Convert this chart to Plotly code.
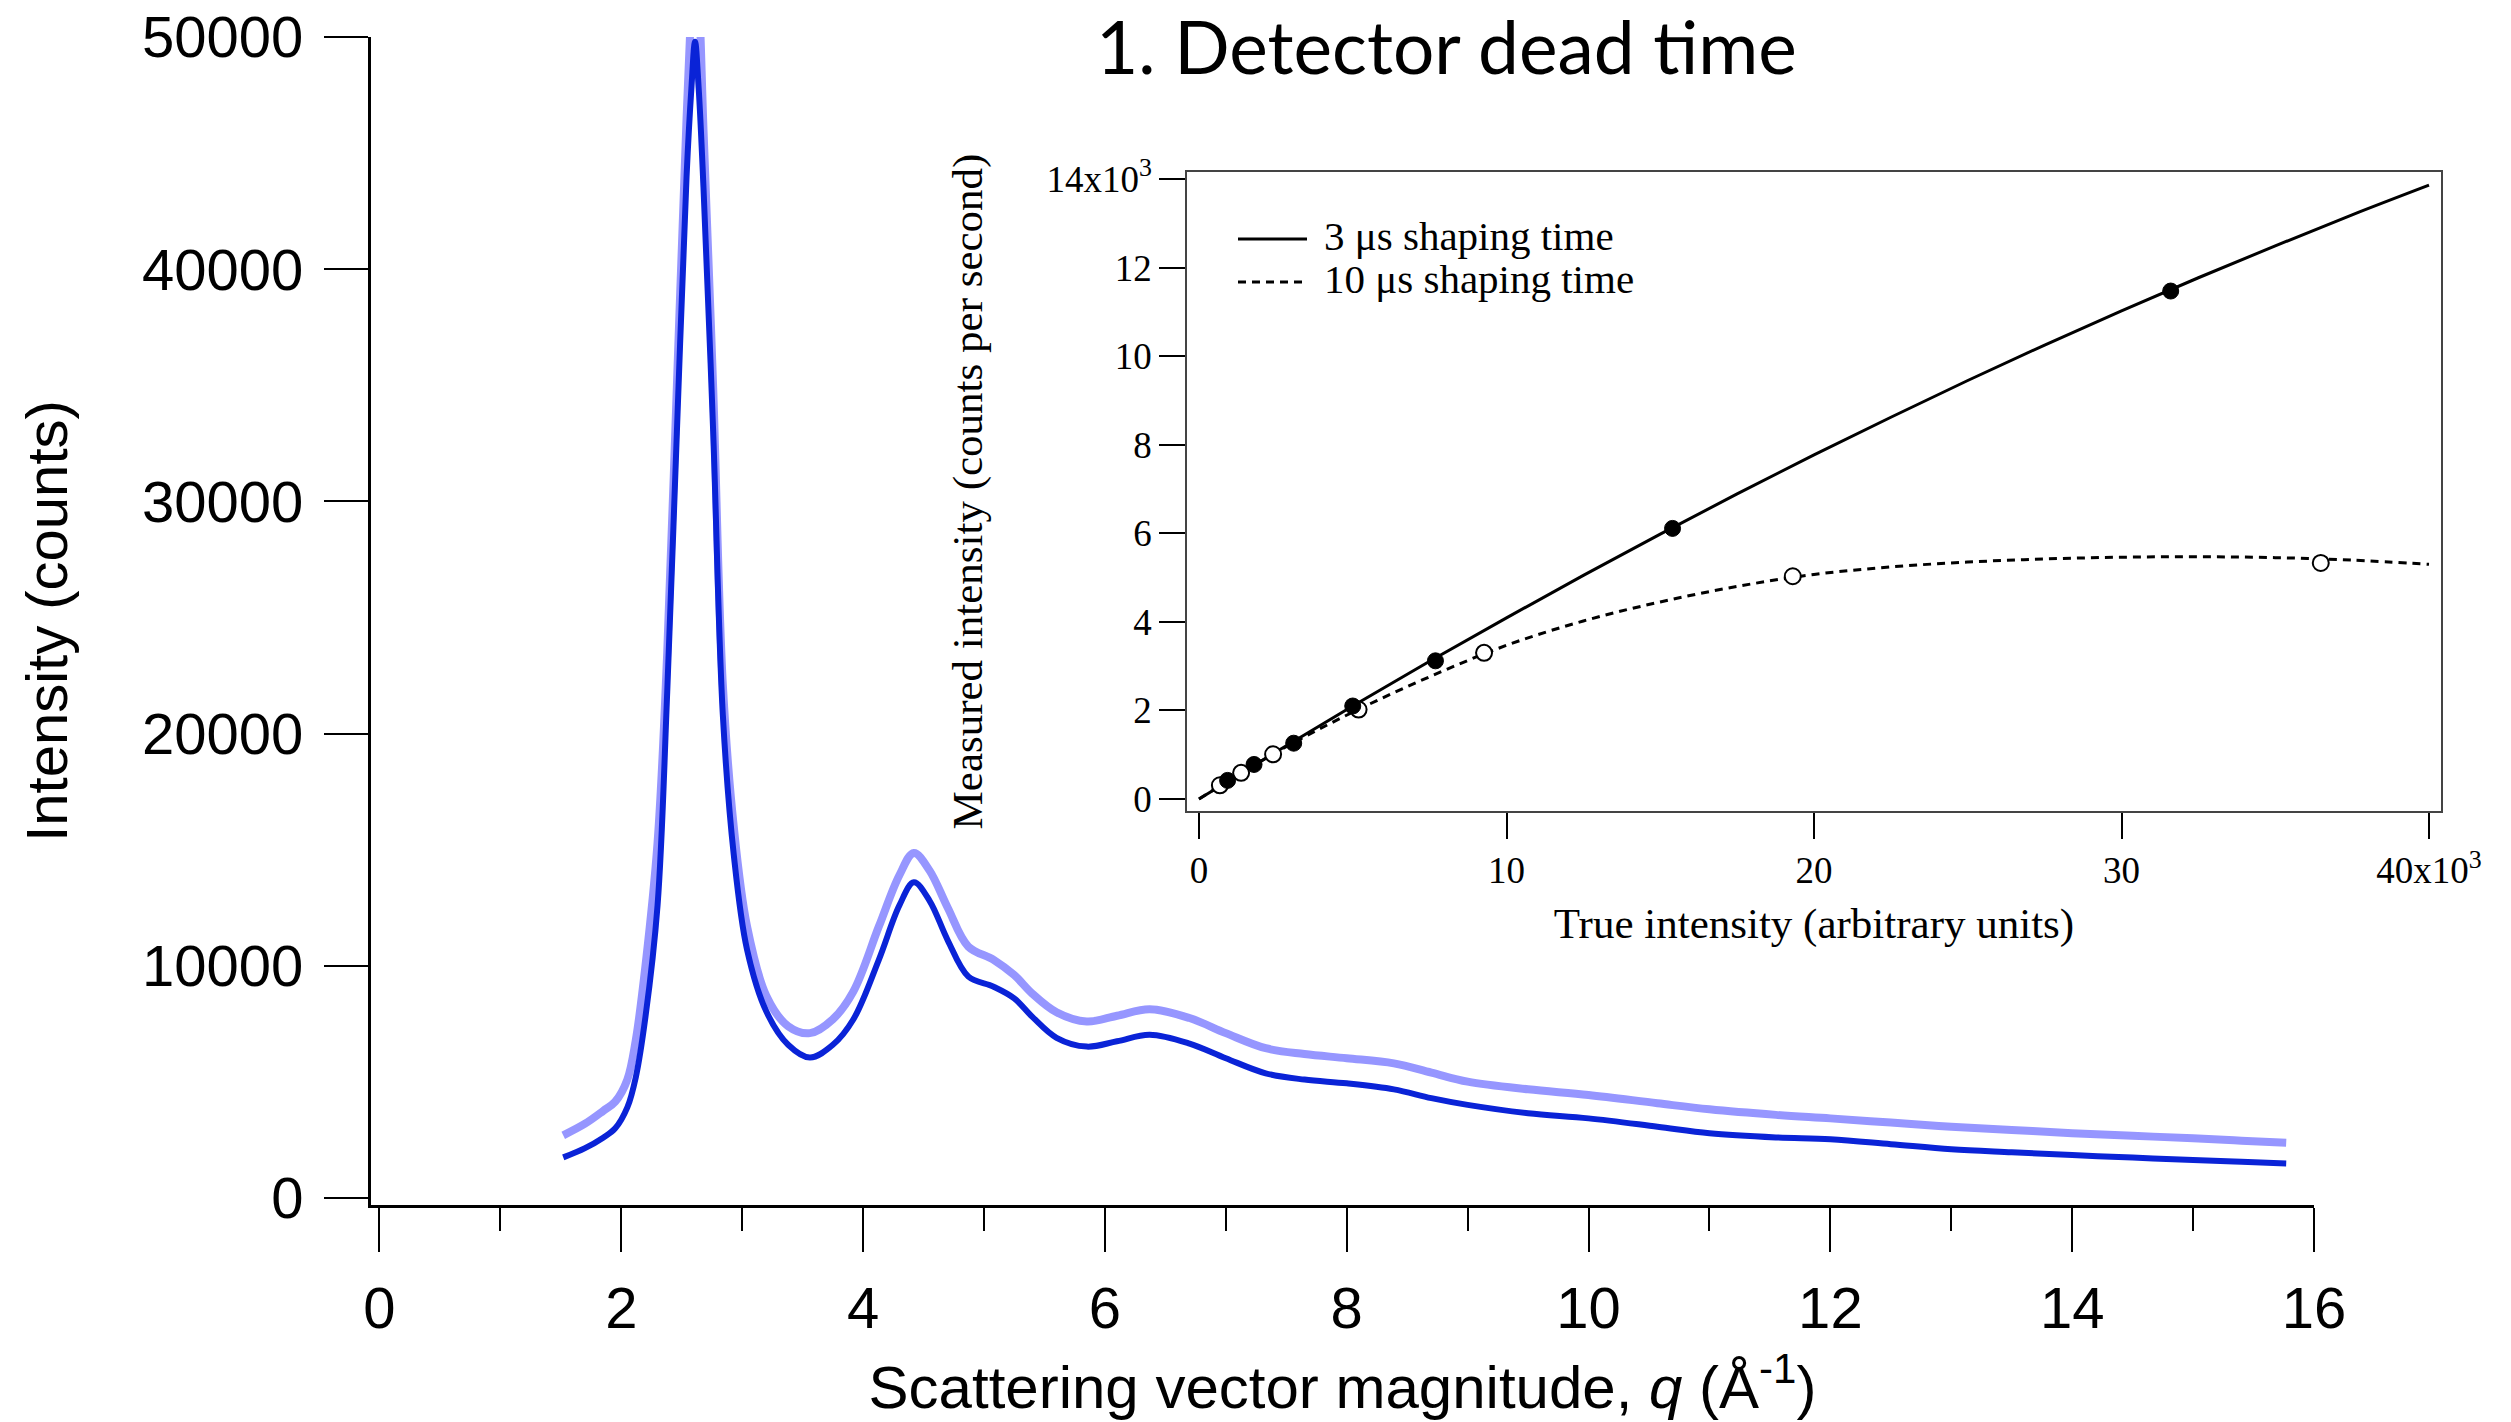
import plotly.graph_objects as go

# ---------------- data: main panel ----------------
q_values = [1.52, 1.70, 1.85, 1.95, 2.05, 2.12, 2.20, 2.30, 2.38, 2.46, 2.54, 2.58, 2.61, 2.64, 2.68,
            2.76, 2.84, 2.93, 3.04, 3.20, 3.38, 3.56, 3.75, 3.92, 4.13, 4.30, 4.42, 4.55, 4.70,
            4.87, 5.08, 5.25, 5.40, 5.60, 5.85, 6.10, 6.37, 6.70, 7.00, 7.33, 7.65, 8.00, 8.39,
            8.70, 9.00, 9.50, 10.0, 10.57, 11.0, 11.55, 12.0, 12.5, 13.0, 13.5, 14.0, 14.5, 15.0,
            15.4, 15.77]

intensity_measured = [1750, 2150, 2600, 3000, 3900, 5200, 7800, 12600, 21800, 33000, 44000, 47800,
                      49800, 47800, 43500, 33000, 20800, 14800, 10700, 8030, 6600, 6050, 6600, 7700,
                      10260, 12600, 13600, 12800, 11100, 9540, 9100, 8600, 7800, 6900, 6520, 6750,
                      7030, 6650, 6020, 5370, 5100, 4940, 4680, 4300, 4010, 3650, 3430, 3070, 2790,
                      2610, 2530, 2320, 2100, 1970, 1850, 1740, 1640, 1560, 1490]

intensity_corrected = [2700, 3200, 3750, 4150, 5100, 6800, 10000, 15300, 23500, 35000, 46500, 51500,
                       54000, 52000, 46000, 34900, 22100, 16000, 11700, 8700, 7400, 7100, 7700, 8900,
                       11690, 13900, 14860, 14100, 12500, 10830, 10260, 9600, 8800, 8000, 7600, 7850,
                       8130, 7750, 7100, 6450, 6200, 6020, 5800, 5400, 5010, 4680, 4440, 4080, 3820,
                       3580, 3430, 3250, 3070, 2930, 2790, 2680, 2570, 2470, 2380]

# ---------------- data: inset ----------------
true_curve = [0, 2500, 5000, 7500, 10000, 12500, 15000, 17500, 20000, 22500, 25000, 27500,
              30000, 32500, 35000, 37500, 40000]
measured_3us_curve = [0, 1060, 2100, 3110, 4090, 5050, 5980, 6890, 7770, 8620, 9450, 10250,
                      11020, 11770, 12490, 13190, 13860]
measured_10us_curve = [0, 1050, 1960, 2760, 3470, 4020, 4450, 4800, 5070, 5240, 5350, 5420,
                       5460, 5470, 5450, 5395, 5300]

true_3us_points = [930, 1790, 3080, 5000, 7690, 15400, 31600]
measured_3us_points = [420, 780, 1260, 2100, 3120, 6110, 11470]
true_10us_points = [680, 1370, 2410, 5190, 9270, 19310, 36480]
measured_10us_points = [310, 590, 1010, 2020, 3300, 5030, 5330]

inset_x_ticks = [0, 10000, 20000, 30000, 40000]
inset_x_labels = ["0", "10", "20", "30", "40x10<sup>3</sup>"]
inset_y_ticks = [0, 2000, 4000, 6000, 8000, 10000, 12000, 14000]
inset_y_labels = ["0", "2", "4", "6", "8", "10", "12", "14x10<sup>3</sup>"]

legend_labels = ["3 \u03bcs shaping time", "10 \u03bcs shaping time"]

W, H = 2511, 1422


def px(x):
    return x / W


def py(y):
    return 1 - y / H


SANS = "Liberation Sans, Arial, sans-serif"
SERIF = "Liberation Serif, Times New Roman, serif"
LIGHT = "#9696FF"
DARK = "#0A23D7"

fig = go.Figure()

fig.add_trace(go.Scatter(x=q_values, y=intensity_corrected, mode="lines",
                         line=dict(color=LIGHT, width=8, shape="spline", smoothing=1.0),
                         xaxis="x", yaxis="y", showlegend=False))
fig.add_trace(go.Scatter(x=q_values, y=intensity_measured, mode="lines",
                         line=dict(color=DARK, width=6, shape="spline", smoothing=1.0),
                         xaxis="x", yaxis="y", showlegend=False))

fig.add_trace(go.Scatter(x=true_curve, y=measured_10us_curve, mode="lines",
                         line=dict(color="black", width=3, dash="8px,6px", shape="spline"),
                         xaxis="x2", yaxis="y2", showlegend=False))
fig.add_trace(go.Scatter(x=true_curve, y=measured_3us_curve, mode="lines",
                         line=dict(color="black", width=3, shape="spline"),
                         xaxis="x2", yaxis="y2", showlegend=False))
fig.add_trace(go.Scatter(x=true_10us_points, y=measured_10us_points, mode="markers",
                         marker=dict(symbol="circle", size=16, color="white",
                                     line=dict(color="black", width=2)),
                         xaxis="x2", yaxis="y2", showlegend=False))
fig.add_trace(go.Scatter(x=true_3us_points, y=measured_3us_points, mode="markers",
                         marker=dict(symbol="circle", size=16, color="black",
                                     line=dict(color="black", width=1)),
                         xaxis="x2", yaxis="y2", showlegend=False))

# inset legend (manual)
legend_rows = [(236, "solid"), (279, "8px,6px")]
for (ly, dash), label in zip(legend_rows, legend_labels):
    fig.add_shape(type="line", xref="paper", yref="paper",
                  x0=px(1238), x1=px(1307), y0=py(ly + 3), y1=py(ly + 3),
                  line=dict(color="black", width=3, dash=dash))
    fig.add_annotation(x=px(1322), y=py(ly), xref="paper", yref="paper", text=label,
                       showarrow=False, xanchor="left", yanchor="middle",
                       font=dict(family=SERIF, size=41, color="black"))

# main title
fig.add_annotation(x=px(1446), y=1, xref="paper", yref="paper",
                   text="1. Detector dead time", showarrow=False,
                   xanchor="center", yanchor="top",
                   font=dict(family="Lato, sans-serif", size=73, color="black"))

fig.update_layout(
    width=W, height=H, autosize=False,
    margin=dict(l=0, r=0, t=0, b=0),
    paper_bgcolor="white", plot_bgcolor="rgba(0,0,0,0)",
    showlegend=False,
    xaxis=dict(domain=[px(371), px(2314)], range=[-0.07, 16], anchor="y",
               tickmode="linear", tick0=0, dtick=2, ticks="outside", ticklen=44,
               tickwidth=2, tickcolor="black", showline=True, linewidth=3, linecolor="black",
               showgrid=False, zeroline=False, automargin=False, ticklabelstandoff=6,
               minor=dict(ticks="outside", ticklen=23, tickwidth=2, tickcolor="black", dtick=1,
                          tick0=0, showgrid=False),
               tickfont=dict(family=SANS, size=58, color="black"),
               title=dict(text="Scattering vector magnitude, <i>q</i> (Å<sup>-1</sup>)",
                          font=dict(family=SANS, size=60, color="black"), standoff=28)),
    yaxis=dict(domain=[py(1205), py(37)], range=[-301, 50000], anchor="x",
               tickmode="linear", tick0=0, dtick=10000, ticks="outside", ticklen=44,
               tickformat="d", separatethousands=False, ticklabelstandoff=9,
               tickwidth=2, tickcolor="black", showline=True, linewidth=3, linecolor="black",
               showgrid=False, zeroline=False, automargin=False,
               tickfont=dict(family=SANS, size=58, color="black"),
               title=dict(text="Intensity (counts)",
                          font=dict(family=SANS, size=58, color="black"), standoff=56)),
    xaxis2=dict(domain=[px(1187), px(2441)], range=[-390, 40390], anchor="y2",
                tickmode="array", tickvals=inset_x_ticks, ticktext=inset_x_labels,
                ticks="outside", ticklen=26, tickwidth=1.5, tickcolor="black",
                showline=True, mirror=True, linewidth=1.5, linecolor="#444444",
                showgrid=False, zeroline=False, automargin=False,
                tickfont=dict(family=SERIF, size=37, color="black"),
                title=dict(text="True intensity (arbitrary units)",
                           font=dict(family=SERIF, size=43, color="black"), standoff=18)),
    yaxis2=dict(domain=[py(811), py(172)], range=[-271, 14158], anchor="x2",
                tickmode="array", tickvals=inset_y_ticks, ticktext=inset_y_labels,
                ticks="outside", ticklen=26, tickwidth=1.5, tickcolor="black",
                showline=True, mirror=True, linewidth=1.5, linecolor="#444444",
                showgrid=False, zeroline=False, automargin=False,
                tickfont=dict(family=SERIF, size=37, color="black"),
                title=dict(text="Measured intensity (counts per second)",
                           font=dict(family=SERIF, size=43, color="black"), standoff=50)),
)

fig.write_html("out.html")
